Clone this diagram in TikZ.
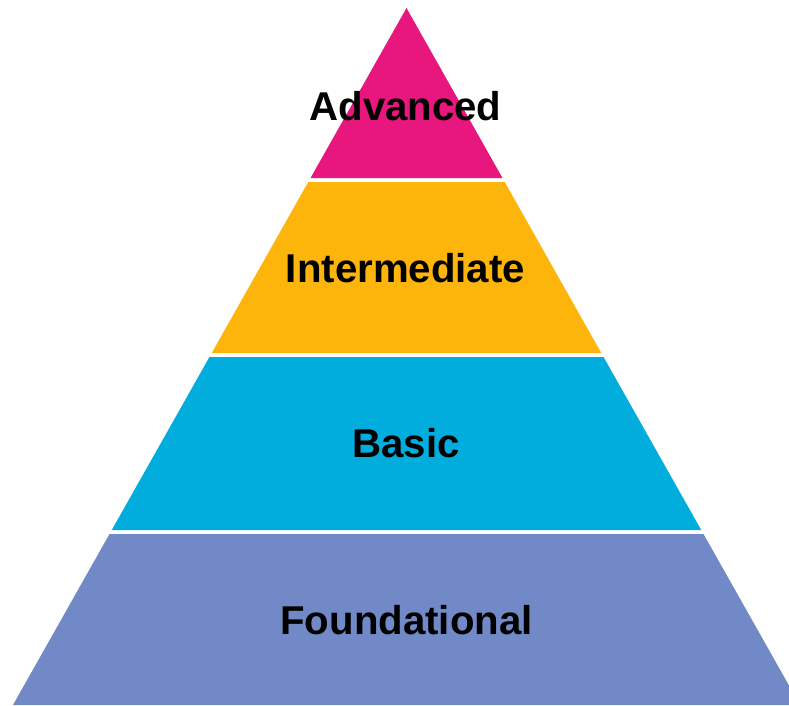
\documentclass[tikz,border=0pt]{standalone}
\usepackage{fontspec}
\setmainfont{Liberation Sans}
\definecolor{advcolor}{HTML}{E8177D}
\definecolor{intcolor}{HTML}{FDB50C}
\definecolor{bascolor}{HTML}{00ADDC}
\definecolor{fndcolor}{HTML}{7189C6}
% one band of the pyramid, between two heights
\newcommand{\band}[3]
{   \fill[#1] ({406.5-0.5646*(#2-8)},#2) -- ({406.5+0.5646*(#2-8)},#2)
      -- ({406.5+0.5646*(#3-8)},#3) -- ({406.5-0.5646*(#3-8)},#3) -- cycle;
}
\tikzset{label text/.style={font=\bfseries\fontsize{40.2}{44}\selectfont, text=black}}

\begin{document}
\begin{tikzpicture}[x=1pt,y=-1pt]
 \useasboundingbox (0,0) rectangle (789,705);

 \band{advcolor}{8}{178} \band{intcolor}{182}{353}
 \band{bascolor}{357}{530} \band{fndcolor}{534}{705}

   \node[label text] (advanced) at (405.5,106) {Advanced};
   \node[label text] (intermediate) at (405.5,268) {Intermediate};
   \node[label text] (basic) at (406,443) {Basic};
   \node[label text] (foundational) at (406.5,620) {Foundational};

\end{tikzpicture}
\end{document}
